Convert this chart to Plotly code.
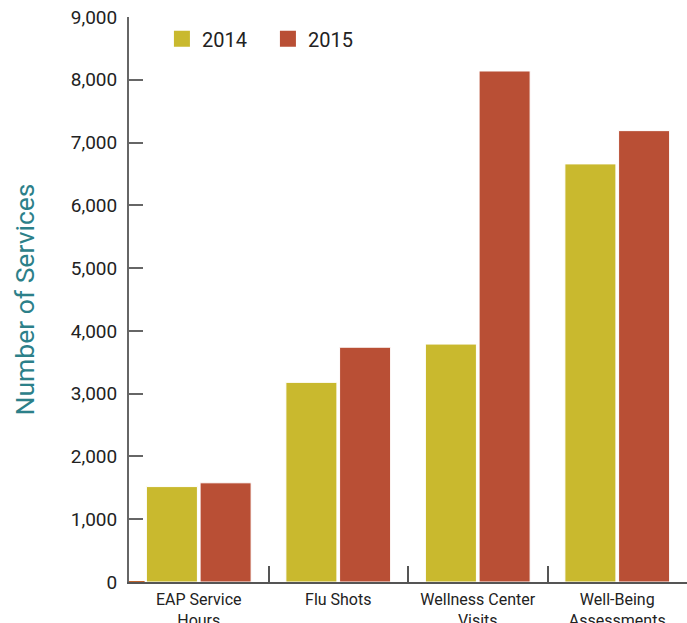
import plotly.graph_objects as go

categories = ["EAP Service<br>Hours", "Flu Shots", "Wellness Center<br>Visits", "Well-Being<br>Assessments"]
values_2014 = [1520, 3180, 3790, 6660]
values_2015 = [1580, 3740, 8140, 7190]
y_ticks = [0, 1000, 2000, 3000, 4000, 5000, 6000, 7000, 8000, 9000]
y_tick_labels = ["0", "1,000", "2,000", "3,000", "4,000", "5,000", "6,000", "7,000", "8,000", "9,000"]

C14 = "#C9B92E"
C15 = "#B94F35"
FONT = "Roboto"

fig = go.Figure()
fig.add_trace(go.Bar(x=categories, y=values_2014, name="2014", marker=dict(color=C14, line=dict(color="white", width=1)), showlegend=False))
fig.add_trace(go.Bar(x=categories, y=values_2015, name="2015", marker=dict(color=C15, line=dict(color="white", width=1)), showlegend=False))
# legend entries with large square markers
fig.add_trace(go.Scatter(x=[None], y=[None], mode="markers", name="2014",
                         marker=dict(symbol="square", size=18, color=C14)))
fig.add_trace(go.Scatter(x=[None], y=[None], mode="markers", name="2015",
                         marker=dict(symbol="square", size=18, color=C15)))

fig.add_shape(type="line", xref="paper", yref="y", x0=0, x1=0.028, y0=0, y1=0,
              line=dict(color="#C0622A", width=2))

fig.update_layout(
    width=687, height=623,
    margin=dict(l=129, r=0, t=17, b=41, pad=0),
    paper_bgcolor="white", plot_bgcolor="white",
    barmode="group", bargap=0.23, bargroupgap=0.05,
    font=dict(family=FONT, color="#222222", size=19),
    legend=dict(orientation="h", x=0.059, y=0.996, xanchor="left", yanchor="top",
                font=dict(size=20, family=FONT, color="#222222"),
                itemwidth=30, entrywidth=61, entrywidthmode="pixels",
                bgcolor="rgba(0,0,0,0)"),
    xaxis=dict(type="category", tickson="boundaries", ticks="inside", ticklen=16,
               tickwidth=2, tickcolor="#555555", showline=True, linecolor="#555555",
               linewidth=2, showgrid=False, zeroline=False, ticklabelstandoff=2,
               automargin=False,
               tickfont=dict(size=16, family=FONT, color="#222222")),
    yaxis=dict(range=[0, 9000], tickvals=y_ticks, ticktext=y_tick_labels,
               ticks="inside", ticklen=14, tickwidth=2, tickcolor="#666666",
               showline=True, linecolor="#666666", linewidth=2, showgrid=False,
               zeroline=False, ticklabelstandoff=6, automargin=False,
               tickfont=dict(size=19, family=FONT, color="#222222"),
               title=dict(text="Number of Services", standoff=28,
                          font=dict(size=26.5, family=FONT, color="#2C8089"))),
)

fig.write_html("out.html")
